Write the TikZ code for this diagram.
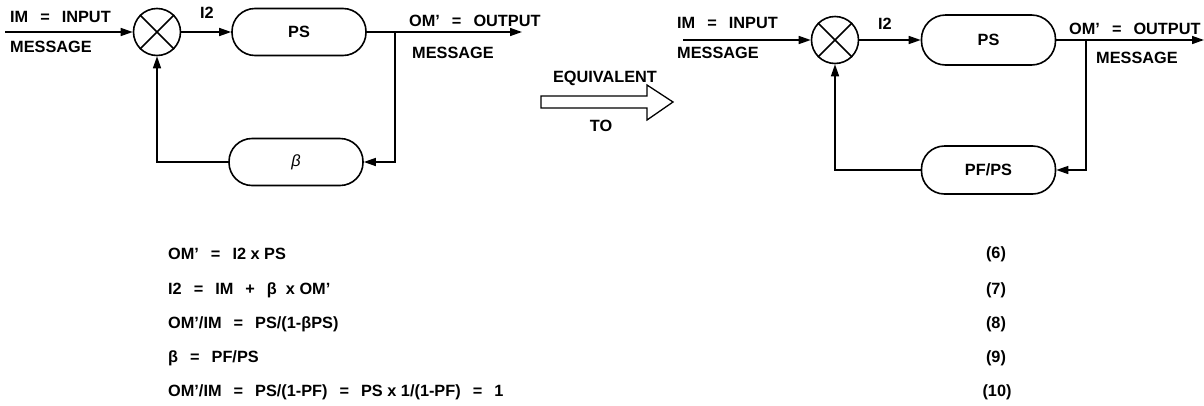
\documentclass[tikz,border=0pt]{standalone}
\usepackage{fontspec}
\setmainfont{Liberation Sans}
\usetikzlibrary{arrows.meta}
\newcommand\myeq{\hspace{12pt}=\hspace{12pt}}
\newcommand\myplus{\hspace{12pt}+\hspace{12pt}}
\begin{document}
\begin{tikzpicture}[x=1pt,y=-1pt,
  every node/.style={font=\fontsize{16.3}{19}\selectfont\bfseries},
  lbl/.style={inner sep=0pt, anchor=west},
  num/.style={inner sep=0pt, anchor=center},
  blk/.style={draw, line width=1.6pt, rounded corners=23pt, minimum width=134pt, minimum height=47pt, inner sep=0pt},
  sumnode/.style={draw, circle, line width=1.6pt, minimum size=47pt, inner sep=0pt},
  wire/.style={line width=1.5pt},
  arr/.style={wire, -{Triangle[length=12pt,width=8pt]}},
]
\useasboundingbox (0,0) rectangle (1204,405);
% ---------- left diagram ----------
\node[sumnode] (s1) at (157,32) {};
\draw[wire] (s1.north west) -- (s1.south east) (s1.north east) -- (s1.south west);
\node[blk] (ps1) at (299,32) {PS};
\node[blk] (b1) at (296,162) {\mdseries\itshape β};
\coordinate (in1) at (5,32);
\coordinate (out1) at (522,32);
\coordinate (br1) at (395,32);
\draw[arr] (in1) -- (s1);
\draw[arr] (s1) -- (ps1);
\draw[arr] (ps1) -- (out1);
\draw[arr] (br1) |- (b1);
\draw[arr] (b1) -| (s1);
\node[lbl] (im1) at (10,17) {IM\myeq INPUT};
\node[lbl] (ms1) at (10,47) {MESSAGE};
\node[inner sep=0pt] (i21) at (207,13) {I2};
\node[lbl] (om1) at (409,21) {OM’\myeq OUTPUT};
\node[lbl] (mo1) at (412,53) {MESSAGE};
% ---------- equivalent arrow ----------
\draw[line width=1.3pt] (541,96) -- (647,96) -- (647,85) -- (673,102) -- (647,120) -- (647,108) -- (541,108) -- cycle;
\node[inner sep=0pt] (eq) at (605,78) {EQUIVALENT};
\node[inner sep=0pt] (to) at (601,126) {TO};
% ---------- right diagram ----------
\node[sumnode] (s2) at (835,40) {};
\draw[wire] (s2.north west) -- (s2.south east) (s2.north east) -- (s2.south west);
\node[blk, minimum height=50pt, rounded corners=24pt] (ps2) at (988.5,40) {PS};
\node[blk, minimum height=48pt] (b2) at (988.5,170) {PF/PS};
\coordinate (in2) at (683,40);
\coordinate (out2) at (1204,40);
\coordinate (br2) at (1086,40);
\draw[arr] (in2) -- (s2);
\draw[arr] (s2) -- (ps2);
\draw[arr] (ps2) -- (out2);
\draw[arr] (br2) |- (b2);
\draw[arr] (b2) -| (s2);
\node[lbl] (im2) at (677,23) {IM\myeq INPUT};
\node[lbl] (ms2) at (677,53) {MESSAGE};
\node[inner sep=0pt] (i22) at (885,24) {I2};
\node[lbl] (om2) at (1069,29) {OM’\myeq OUTPUT};
\node[lbl] (mo2) at (1096,58) {MESSAGE};
% ---------- equations ----------
\node[lbl] (e6) at (168,254) {OM’\myeq I2 x PS};
\node[lbl] (e7) at (168,290) {I2\myeq IM\myplus β~~x OM’};
\node[lbl] (e8) at (168,324) {OM’/IM\myeq PS/(1-βPS)};
\node[lbl] (e9) at (168,358) {β\myeq PF/PS};
\node[lbl] (e10) at (168,392) {OM’/IM\myeq PS/(1-PF)\myeq PS x 1/(1-PF)\myeq 1};
\node[num] (n6) at (996,254) {(6)};
\node[num] (n7) at (996,290) {(7)};
\node[num] (n8) at (996,324) {(8)};
\node[num] (n9) at (996,358) {(9)};
\node[num] (n10) at (997,392) {(10)};
\end{tikzpicture}
\end{document}
